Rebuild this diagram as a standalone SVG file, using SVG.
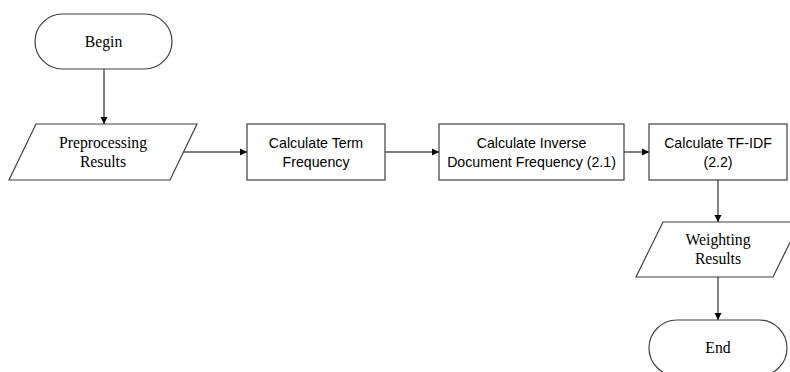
<svg xmlns="http://www.w3.org/2000/svg" width="790" height="372" viewBox="0 0 790 372">
<defs>
<marker id="ah" markerWidth="8" markerHeight="8" refX="7" refY="4" orient="auto" markerUnits="userSpaceOnUse">
<path d="M0,0.5 L7,4 L0,7.5 z" fill="#000"/>
</marker>
<style>
.shape{fill:#fff;stroke:#404040;stroke-width:1.2}
.serif{font-family:"Liberation Serif","Times New Roman",serif;font-size:15.7px;fill:#000;text-anchor:middle}
.sans{font-family:"Liberation Sans",Arial,sans-serif;font-size:14.2px;fill:#000;text-anchor:middle}
.conn{stroke:#000;stroke-width:1;fill:none;marker-end:url(#ah)}
</style>
</defs>
<rect width="790" height="372" fill="#fff"/>
<g id="connectors">
<line class="conn" x1="104" y1="69" x2="104" y2="124"/>
<line class="conn" x1="183" y1="152" x2="247" y2="152"/>
<line class="conn" x1="385" y1="152" x2="439" y2="152"/>
<line class="conn" x1="624" y1="152" x2="649" y2="152"/>
<line class="conn" x1="718" y1="180" x2="718" y2="222"/>
<line class="conn" x1="718" y1="277" x2="718" y2="320"/>
</g>
<g id="begin">
<rect class="shape" x="35" y="14" width="137" height="55" rx="27.5" ry="27.5"/>
<text class="serif" x="103.5" y="47">Begin</text>
</g>
<g id="preprocessing">
<polygon class="shape" points="36,124 197,124 170,180 9,180"/>
<text class="serif" x="103" y="148">Preprocessing</text>
<text class="serif" x="103" y="167">Results</text>
</g>
<g id="tf">
<rect class="shape" x="247" y="124" width="138" height="56"/>
<text class="sans" x="316" y="148">Calculate Term</text>
<text class="sans" x="316" y="167">Frequency</text>
</g>
<g id="idf">
<rect class="shape" x="439" y="124" width="185" height="56"/>
<text class="sans" x="531.5" y="148">Calculate Inverse</text>
<text class="sans" x="531.5" y="167">Document Frequency (2.1)</text>
</g>
<g id="tfidf">
<rect class="shape" x="649" y="124" width="138" height="56"/>
<text class="sans" x="718" y="148">Calculate TF-IDF</text>
<text class="sans" x="718" y="167">(2.2)</text>
</g>
<g id="weighting">
<polygon class="shape" points="663,222 800,222 773,277 636,277"/>
<text class="serif" x="718" y="245">Weighting</text>
<text class="serif" x="718" y="264">Results</text>
</g>
<g id="end">
<rect class="shape" x="649" y="320" width="138" height="56" rx="28" ry="28"/>
<text class="serif" x="718" y="353">End</text>
</g>
</svg>
